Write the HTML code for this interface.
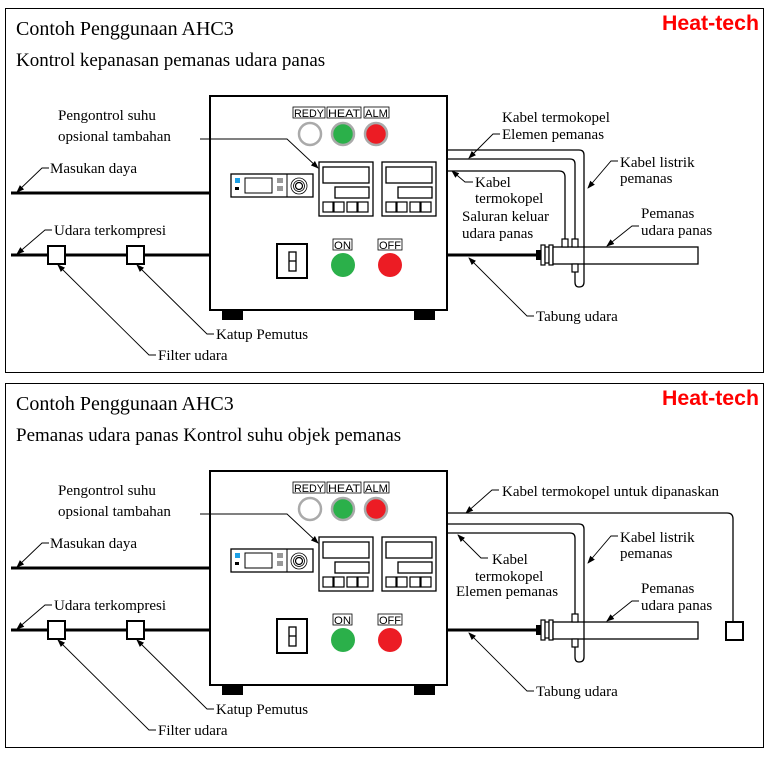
<!DOCTYPE html>
<html><head><meta charset="utf-8"><style>
html,body{margin:0;padding:0;background:#fff;width:769px;height:760px;overflow:hidden}
svg{display:block}
text{fill:#000}
.s{font-family:"Liberation Serif",serif}
.a{font-family:"Liberation Sans",sans-serif;font-size:11px}
.h{font-family:"Liberation Sans",sans-serif;font-weight:bold;font-size:21px;fill:#ff0000}
</style></head><body>
<svg width="769" height="760" viewBox="0 0 769 760" xmlns="http://www.w3.org/2000/svg">
<defs>
<marker id="ar" markerWidth="8" markerHeight="8" refX="7" refY="4" orient="auto" markerUnits="userSpaceOnUse"><path d="M0,1 L8,4 L0,7 z" fill="#000"/></marker>
<g id="common">
  <rect x="210" y="96" width="237" height="214" fill="#fff" stroke="#000" stroke-width="2"/>
  <rect x="222" y="310" width="21" height="10" fill="#000"/>
  <rect x="414" y="310" width="21" height="10" fill="#000"/>
  <rect x="293" y="107" width="32" height="11" fill="none" stroke="#000" stroke-width="0.8"/>
  <text x="294" y="117" class="a" textLength="30" lengthAdjust="spacingAndGlyphs">REDY</text>
  <rect x="327" y="107" width="34" height="11" fill="none" stroke="#000" stroke-width="0.8"/>
  <text x="328" y="117" class="a" textLength="32" lengthAdjust="spacingAndGlyphs">HEAT</text>
  <rect x="364" y="107" width="25" height="11" fill="none" stroke="#000" stroke-width="0.8"/>
  <text x="365" y="117" class="a" textLength="23" lengthAdjust="spacingAndGlyphs">ALM</text>
  <circle cx="310" cy="134" r="11" fill="#fff" stroke="#aaa" stroke-width="2.5"/>
  <circle cx="343" cy="134" r="11" fill="#2bb04a" stroke="#aaa" stroke-width="2.5"/>
  <circle cx="376" cy="134" r="11" fill="#ec1c24" stroke="#aaa" stroke-width="2.5"/>
  <rect x="231" y="174" width="82" height="23" fill="#fff" stroke="#000" stroke-width="1.3"/>
  <rect x="235" y="178" width="5" height="5" fill="#1ca0e6"/>
  <rect x="235" y="187" width="4" height="3" fill="#000"/>
  <rect x="245" y="178" width="27" height="15" fill="none" stroke="#000"/>
  <rect x="277" y="178" width="6" height="5" fill="#999"/>
  <rect x="277" y="186" width="6" height="5" fill="#999"/>
  <line x1="287" y1="174" x2="287" y2="197" stroke="#000"/>
  <circle cx="299" cy="186" r="8" fill="none" stroke="#000" stroke-width="0.8"/>
  <circle cx="299" cy="186" r="5.5" fill="none" stroke="#000" stroke-width="0.8"/>
  <circle cx="299" cy="186" r="3.5" fill="none" stroke="#000" stroke-width="1.2"/>
  <g id="ctl">
    <rect x="319" y="162" width="54" height="54" fill="#fff" stroke="#000" stroke-width="1.3"/>
    <rect x="323" y="167" width="46" height="16" fill="none" stroke="#000" stroke-width="1.3"/>
    <rect x="335" y="187" width="34" height="11" fill="none" stroke="#000" stroke-width="1.3"/>
    <rect x="323" y="202" width="10" height="10" fill="none" stroke="#000" stroke-width="1.2"/>
    <rect x="334" y="202" width="10" height="10" fill="none" stroke="#000" stroke-width="1.2"/>
    <rect x="347" y="202" width="10" height="10" fill="none" stroke="#000" stroke-width="1.2"/>
    <rect x="358" y="202" width="10" height="10" fill="none" stroke="#000" stroke-width="1.2"/>
  </g>
  <use href="#ctl" x="63"/>
  <rect x="277" y="244" width="30" height="34" fill="#fff" stroke="#000" stroke-width="2"/>
  <rect x="289" y="252" width="7" height="19" fill="#fff" stroke="#000" stroke-width="1.3"/>
  <line x1="289" y1="261" x2="296" y2="261" stroke="#000" stroke-width="1.3"/>
  <rect x="333" y="239" width="19" height="11" fill="none" stroke="#000" stroke-width="0.8"/>
  <text x="334" y="249" class="a" textLength="17" lengthAdjust="spacingAndGlyphs">ON</text>
  <rect x="378" y="239" width="24" height="11" fill="none" stroke="#000" stroke-width="0.8"/>
  <text x="379" y="249" class="a" textLength="22" lengthAdjust="spacingAndGlyphs">OFF</text>
  <circle cx="343" cy="265" r="12" fill="#2bb04a"/>
  <circle cx="390" cy="265" r="12" fill="#ec1c24"/>
  <line x1="11" y1="193" x2="210" y2="193" stroke="#000" stroke-width="3"/>
  <line x1="11" y1="255" x2="210" y2="255" stroke="#000" stroke-width="3"/>
  <rect x="48" y="246" width="17" height="18" fill="#fff" stroke="#000" stroke-width="2"/>
  <rect x="127" y="246" width="17" height="18" fill="#fff" stroke="#000" stroke-width="2"/>
  <line x1="447" y1="255" x2="537" y2="255" stroke="#000" stroke-width="3"/>
  <rect x="536" y="250" width="5" height="10" fill="#000"/>
  <rect x="541" y="245" width="4" height="20" fill="#fff" stroke="#000" stroke-width="1.2"/>
  <rect x="545" y="247" width="4" height="16" fill="#fff" stroke="#000" stroke-width="1.2"/>
  <rect x="549" y="245" width="4" height="20" fill="#fff" stroke="#000" stroke-width="1.2"/>
  <rect x="553" y="247" width="145" height="17" fill="#fff" stroke="#000" stroke-width="1.3"/>
  <g class="s" font-size="15">
    <text x="58" y="120">Pengontrol suhu</text>
    <text x="58" y="141">opsional tambahan</text>
    <text x="50" y="173">Masukan daya</text>
    <text x="54" y="235">Udara terkompresi</text>
    <text x="216" y="339">Katup Pemutus</text>
    <text x="158" y="360">Filter udara</text>
    <text x="620" y="167">Kabel listrik</text>
    <text x="620" y="183">pemanas</text>
    <text x="641" y="218">Pemanas</text>
    <text x="641" y="235">udara panas</text>
    <text x="536" y="321">Tabung udara</text>
  </g>
  <g fill="none" stroke="#000" stroke-width="0.9" marker-end="url(#ar)">
    <polyline points="200,139 287,139 318,168"/>
    <polyline points="49,168 42,168 17,192"/>
    <polyline points="52,230 45,230 17,254"/>
    <polyline points="214,334 207,334 137,265"/>
    <polyline points="156,355 149,355 58,265"/>
    <polyline points="618,161 611,161 588,188"/>
    <polyline points="639,226 632,226 607,246"/>
    <polyline points="534,316 527,316 469,258"/>
  </g>
</g>
</defs>

<rect x="5.5" y="8.5" width="758" height="364" fill="none" stroke="#000" stroke-width="1"/>
<text x="16" y="35" class="s" font-size="20">Contoh Penggunaan AHC3</text>
<text x="16" y="66" class="s" font-size="19">Kontrol kepanasan pemanas udara panas</text>
<text x="662" y="30" class="h" textLength="97" lengthAdjust="spacingAndGlyphs">Heat-tech</text>
<use href="#common"/>
<g fill="none" stroke="#000" stroke-width="1.3">
  <path d="M447,150 H579 Q584,150 584,155 V282 Q584,287 579,287 Q575,287 575,282 V271"/>
  <path d="M447,159 H570 Q575,159 575,164 V240"/>
  <path d="M447,171 H559 Q565,171 565,177 V240"/>
</g>
<rect x="562" y="239" width="6" height="8" fill="#fff" stroke="#000" stroke-width="1.2"/>
<rect x="572" y="239" width="6" height="8" fill="#fff" stroke="#000" stroke-width="1.2"/>
<rect x="572" y="264" width="6" height="8" fill="#fff" stroke="#000" stroke-width="1.2"/>
<g class="s" font-size="15">
  <text x="502" y="122">Kabel termokopel</text>
  <text x="502" y="139">Elemen pemanas</text>
  <text x="475" y="187">Kabel</text>
  <text x="475" y="203">termokopel</text>
  <text x="462" y="221">Saluran keluar</text>
  <text x="462" y="238">udara panas</text>
</g>
<g fill="none" stroke="#000" stroke-width="0.9" marker-end="url(#ar)">
  <polyline points="500,134 493,134 469,158"/>
  <polyline points="473,182 465,182 452,171"/>
</g>

<rect x="5.5" y="383.5" width="758" height="364" fill="none" stroke="#000" stroke-width="1"/>
<text x="16" y="410" class="s" font-size="20">Contoh Penggunaan AHC3</text>
<text x="16" y="441" class="s" font-size="19">Pemanas udara panas Kontrol suhu objek pemanas</text>
<text x="662" y="405" class="h" textLength="97" lengthAdjust="spacingAndGlyphs">Heat-tech</text>
<g transform="translate(0,375)">
  <use href="#common"/>
  <g fill="none" stroke="#000" stroke-width="1.3">
    <path d="M447,138 H727 Q733,138 733,144 V247"/>
    <path d="M447,149 H579 Q584,149 584,154 V282 Q584,287 579,287 Q575,287 575,282 V271"/>
    <path d="M447,158 H570 Q575,158 575,163 V240"/>
  </g>
  <rect x="726" y="247" width="17" height="18" fill="#fff" stroke="#000" stroke-width="2"/>
  <rect x="572" y="239" width="6" height="8" fill="#fff" stroke="#000" stroke-width="1.2"/>
  <rect x="572" y="264" width="6" height="8" fill="#fff" stroke="#000" stroke-width="1.2"/>
  <g class="s" font-size="15">
    <text x="502" y="121">Kabel termokopel untuk dipanaskan</text>
    <text x="492" y="189">Kabel</text>
    <text x="475" y="206">termokopel</text>
    <text x="456" y="221">Elemen pemanas</text>
  </g>
  <g fill="none" stroke="#000" stroke-width="0.9" marker-end="url(#ar)">
    <polyline points="499,115 492,115 466,138"/>
    <polyline points="488,183 481,183 458,160"/>
  </g>
</g>
</svg>
</body></html>
